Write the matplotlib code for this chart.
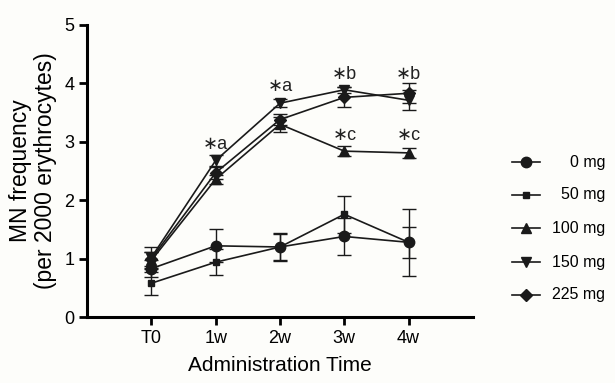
import matplotlib
matplotlib.use("Agg")
import matplotlib.pyplot as plt
from matplotlib.lines import Line2D

plt.rcParams['font.family'] = ['Liberation Sans', 'DejaVu Sans']

categories = ["T0", "1w", "2w", "3w", "4w"]
labels = ["0 mg", "50 mg", "100 mg", "150 mg", "225 mg"]
markers = ["o", "s", "^", "v", "D"]
msizes = [7.5, 4, 6.5, 6.5, 6]

vals_0 = [0.83, 1.22, 1.20, 1.38, 1.28]
err_0 = [0.15, 0.28, 0.22, 0.31, 0.57]
vals_50 = [0.58, 0.94, 1.20, 1.76, 1.28]
err_50 = [0.20, 0.22, 0.24, 0.32, 0.26]
vals_100 = [0.97, 2.36, 3.30, 2.84, 2.81]
err_100 = [0.15, 0.08, 0.13, 0.08, 0.09]
vals_150 = [1.02, 2.68, 3.66, 3.89, 3.71]
err_150 = [0.18, 0.10, 0.07, 0.05, 0.17]
vals_225 = [1.00, 2.47, 3.38, 3.76, 3.83]
err_225 = [0.12, 0.10, 0.10, 0.17, 0.17]

series_vals = [vals_0, vals_50, vals_100, vals_150, vals_225]
series_err = [err_0, err_50, err_100, err_150, err_225]

annot_x = [1, 2, 3, 4, 3, 4]
annot_y = [2.80, 3.80, 4.00, 4.00, 2.97, 2.97]
annot_text = ["\u2217a", "\u2217a", "\u2217b", "\u2217b", "\u2217c", "\u2217c"]

fig = plt.figure(figsize=(6.15, 3.83), dpi=100, facecolor="#fdfdfa")
ax = fig.add_axes([0.1415, 0.172, 0.6275, 0.763])
ax.set_facecolor("#fdfdfa")

x = list(range(len(categories)))
for v, e, m, ms in zip(series_vals, series_err, markers, msizes):
    ax.errorbar(x, v, yerr=e, color="#1a1a1a", marker=m, markersize=ms,
                linewidth=1.2, elinewidth=1.0, capsize=5, capthick=1.0)

for ax_, ay, t in zip(annot_x, annot_y, annot_text):
    ax.text(ax_, ay, t, ha="center", va="bottom", fontsize=13, color="#222222")

ax.set_xlim(-1, 5)
ax.set_ylim(0, 5)
ax.set_xticks(x)
ax.set_xticklabels(categories)
ax.set_yticks([0, 1, 2, 3, 4, 5])
ax.spines['top'].set_visible(False)
ax.spines['right'].set_visible(False)
for s in ['left', 'bottom']:
    ax.spines[s].set_linewidth(2.2)
ax.tick_params(axis='both', width=2, length=6, labelsize=13, pad=3)
ax.set_xlabel("Administration Time", fontsize=15, labelpad=7)
ax.set_ylabel("MN frequency\n(per 2000 erythrocytes)", fontsize=16.5, labelpad=5,
              linespacing=1.15)

# legend drawn manually, right-aligned labels
leg_y = [162, 195, 228, 262, 295]
for yy, lab, m, ms in zip(leg_y, labels, markers, msizes):
    yf = 1 - yy / 383
    fig.add_artist(Line2D([512 / 615, 540 / 615], [yf, yf], color="#1a1a1a",
                          linewidth=1.2, marker=None))
    fig.add_artist(Line2D([526 / 615], [yf], color="#1a1a1a", marker=m,
                          markersize=ms, linestyle="none"))
    fig.text(605 / 615, yf, lab, ha="right", va="center", fontsize=11.5)

fig.savefig("out.png", dpi=100, facecolor=fig.get_facecolor())
